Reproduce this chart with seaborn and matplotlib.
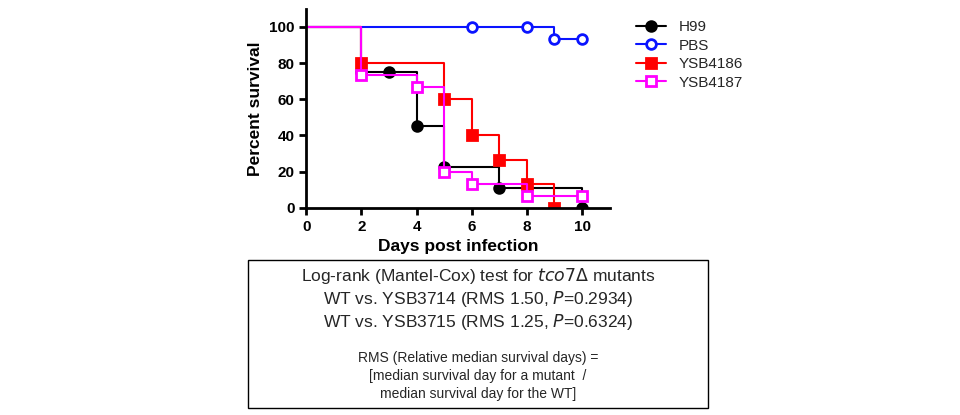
import matplotlib
matplotlib.use('Agg')
import matplotlib.pyplot as plt
import seaborn as sns
import pandas as pd
from matplotlib.patches import Rectangle
from matplotlib.lines import Line2D

sns.set_style('ticks')
plt.rcParams['font.family'] = ['Liberation Sans', 'DejaVu Sans']

# Survival curves (step post), per strain
h99_days = [0, 2, 3, 4, 5, 7, 10]
h99_surv = [100, 75, 75, 45, 22.5, 11.1, 0]
h99_mark = [2, 3, 4, 5, 7, 10]

pbs_days = [0, 6, 8, 9, 10]
pbs_surv = [100, 100, 100, 93.3, 93.3]
pbs_mark = [6, 8, 9, 10]

y4186_days = [0, 2, 5, 6, 7, 8, 9]
y4186_surv = [100, 80, 60, 40, 26.7, 13.3, 0]
y4186_mark = [2, 5, 6, 7, 8, 9]

y4187_days = [0, 2, 4, 5, 6, 8, 10]
y4187_surv = [100, 73.3, 66.7, 20, 13.3, 6.7, 6.7]
y4187_mark = [2, 4, 5, 6, 8, 10]

series = [
    ('H99', h99_days, h99_surv, h99_mark, 'black', 'o', True),
    ('PBS', pbs_days, pbs_surv, pbs_mark, '#0a14ff', 'o', False),
    ('YSB4186', y4186_days, y4186_surv, y4186_mark, '#ff0000', 's', True),
    ('YSB4187', y4187_days, y4187_surv, y4187_mark, '#ff00ff', 's', False),
]

fig = plt.figure(figsize=(9.6, 4.15), dpi=100)
ax = fig.add_axes([0.319, 0.499, 0.316, 0.48])

for name, d, s, marks, col, mk, filled in series:
    df = pd.DataFrame({'day': d, 'surv': s})
    sns.lineplot(data=df, x='day', y='surv', ax=ax, color=col, lw=1.5,
                 drawstyle='steps-post', estimator=None, sort=False)
    md = df[df['day'].isin(marks)]
    ax.plot(md['day'], md['surv'], ls='None', marker=mk, ms=7, mew=2,
            mfc=col if filled else 'white', mec=col)
if ax.get_legend() is not None:
    ax.get_legend().remove()

leg_h = [Line2D([], [], color=c, marker=m, ms=7, mew=2, lw=1.5,
                mfc=c if f else 'white', mec=c) for _, _, _, _, c, m, f in series]
fig.legend(leg_h, [s[0] for s in series], loc='upper left',
           bbox_to_anchor=(0.648, 0.985), frameon=False, fontsize=11,
           handlelength=2.0, labelspacing=0.3)

ax.set_xlim(0, 11)
ax.set_ylim(0, 110)
ax.set_xticks([0, 2, 4, 6, 8, 10])
ax.set_yticks([0, 20, 40, 60, 80, 100])
for s in ['top', 'right']:
    ax.spines[s].set_visible(False)
for s in ['left', 'bottom']:
    ax.spines[s].set_linewidth(2)
    ax.spines[s].set_color('black')
ax.tick_params(width=2, length=5, labelsize=11, colors='black')
for t in ax.get_xticklabels() + ax.get_yticklabels():
    t.set_fontweight('bold')
ax.set_xlabel('Days post infection', fontsize=12.5, fontweight='bold', color='black')
ax.set_ylabel('Percent survival', fontsize=12.5, fontweight='bold', color='black')

# Text box below
fig.patches.append(Rectangle((248 / 960, 1 - 408 / 415), 460 / 960, 148 / 415,
                             transform=fig.transFigure, fill=False, lw=1,
                             ec='black'))
cx = 478 / 960
fig.text(cx, 1 - 276 / 415, 'Log-rank (Mantel-Cox) test for $\\mathit{tco7}\\Delta$ mutants',
         ha='center', va='center', fontsize=12.5)
fig.text(cx, 1 - 299 / 415, 'WT vs. YSB3714 (RMS 1.50, $\\mathit{P}$=0.2934)',
         ha='center', va='center', fontsize=12.5)
fig.text(cx, 1 - 322 / 415, 'WT vs. YSB3715 (RMS 1.25, $\\mathit{P}$=0.6324)',
         ha='center', va='center', fontsize=12.5)
fig.text(cx, 1 - 358 / 415, 'RMS (Relative median survival days) =',
         ha='center', va='center', fontsize=10)
fig.text(cx, 1 - 376 / 415, '[median survival day for a mutant  /',
         ha='center', va='center', fontsize=10)
fig.text(cx, 1 - 394 / 415, 'median survival day for the WT]',
         ha='center', va='center', fontsize=10)

fig.savefig('out.png', dpi=100)
